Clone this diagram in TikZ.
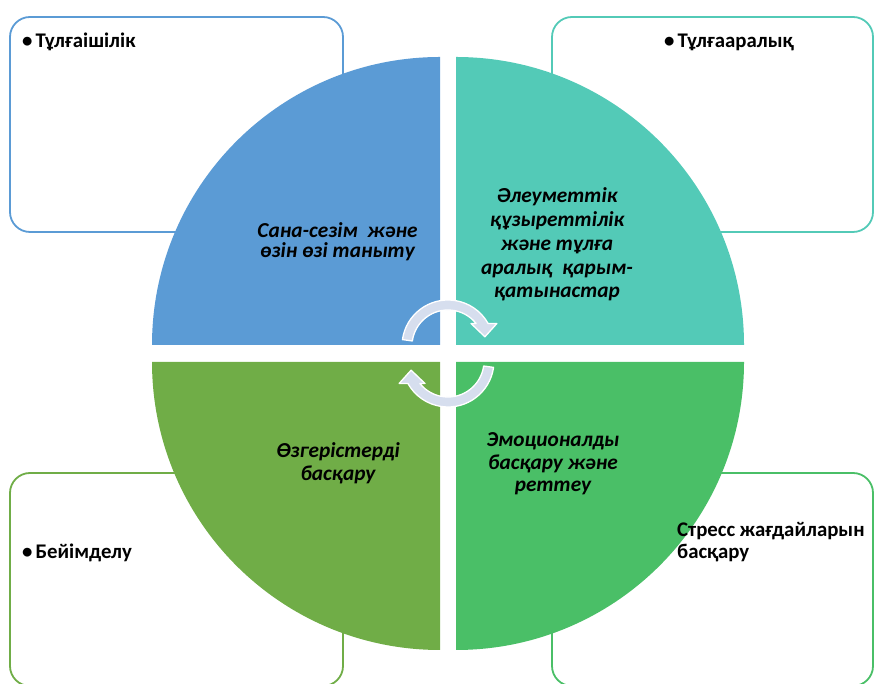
\documentclass[tikz,border=0pt]{standalone}
\usepackage{fontspec}
\setmainfont{Carlito}
\usetikzlibrary{calc}
\definecolor{qblue}{HTML}{5B9BD5}
\definecolor{qteal}{HTML}{53CAB7}
\definecolor{qolive}{HTML}{70AD47}
\definecolor{qgreen}{HTML}{4ABF67}
\definecolor{arrfill}{HTML}{D6DEEE}
\tikzset{
  framebox/.style={line width=1.8pt, rounded corners=20pt},
  qtext/.style={align=center, text=black, inner sep=0pt, anchor=base},
  btext/.style={font=\fontsize{20.8}{22.5}\selectfont\bfseries, text=black, inner sep=0pt},
  cyclearrow/.style={fill=arrfill, draw=white, line width=1.3pt, line join=round},
}
\newcommand{\qfont}[1]{\fontsize{21.3}{#1}\selectfont\bfseries\itshape}
\begin{document}
\begin{tikzpicture}[x=1pt,y=1pt]
\useasboundingbox (0,0) rectangle (874,684);
% frames
\draw[framebox, qblue] (10,452) rectangle (343,667);
\draw[framebox, qteal] (552,452) rectangle (873,667);
\draw[framebox, qolive] (10,-2) rectangle (343,211);
\draw[framebox, qgreen] (552,-2) rectangle (873,211);
% quadrants
\fill[qblue] (440,339) -- (152,339) arc[start angle=180,end angle=90,radius=288pt] -- cycle;
\fill[qteal] (456,339) -- (456,627) arc[start angle=90,end angle=0,radius=288pt] -- cycle;
\fill[qolive] (440,322) -- (440,34) arc[start angle=270,end angle=180,radius=288pt] -- cycle;
\fill[qgreen] (456,322) -- (744,322) arc[start angle=0,end angle=-90,radius=288pt] -- cycle;
% cycle arrows
\coordinate (c1) at (448,338);
\coordinate (c2) at (448,323);
\begin{scope}[shift={(c1)}]
\path[cyclearrow] (172:46pt) arc[start angle=172,end angle=29.3,radius=46pt]
  -- (48.9,22.5) -- (36.9,9.2) -- (23,22.5) -- (38.7:36pt)
  arc[start angle=38.7,end angle=172,radius=36pt] -- cycle;
\end{scope}
\begin{scope}[shift={(c2)}, rotate=180]
\path[cyclearrow] (172:46pt) arc[start angle=172,end angle=29.3,radius=46pt]
  -- (48.9,22.5) -- (36.9,9.2) -- (23,22.5) -- (38.7:36pt)
  arc[start angle=38.7,end angle=172,radius=36pt] -- cycle;
\end{scope}
% quadrant texts (base = last line baseline)
\node[qtext, font=\qfont{20}] (t1) at (337.5,426) {Сана-сезім~ және\\өзін өзі таныту};
\node[qtext, font=\qfont{23.8}] (t2) at (557,386) {Әлеуметтік\\құзыреттілік\\және тұлға\\аралық~ қарым-\\қатынастар};
\node[qtext, font=\qfont{23}] (t3) at (338,203) {Өзгерістерді\\басқару};
\node[qtext, font=\qfont{22.5}] (t4) at (553,192) {Эмоционалды\\басқару және\\реттеу};
% frame texts
\node[btext, anchor=base west] (l1) at (22,636) {\textbullet\hspace{3pt}Тұлғаішілік};
\node[btext, anchor=base west] (l2) at (664,636) {\textbullet\hspace{3pt}Тұлғааралық};
\node[btext, anchor=base west] (l3) at (22,125) {\textbullet\hspace{3pt}Бейімделу};
\node[btext, anchor=base west, align=left] (l4) at (677,125) {Стресс жағдайларын\\басқару};
\end{tikzpicture}
\end{document}
